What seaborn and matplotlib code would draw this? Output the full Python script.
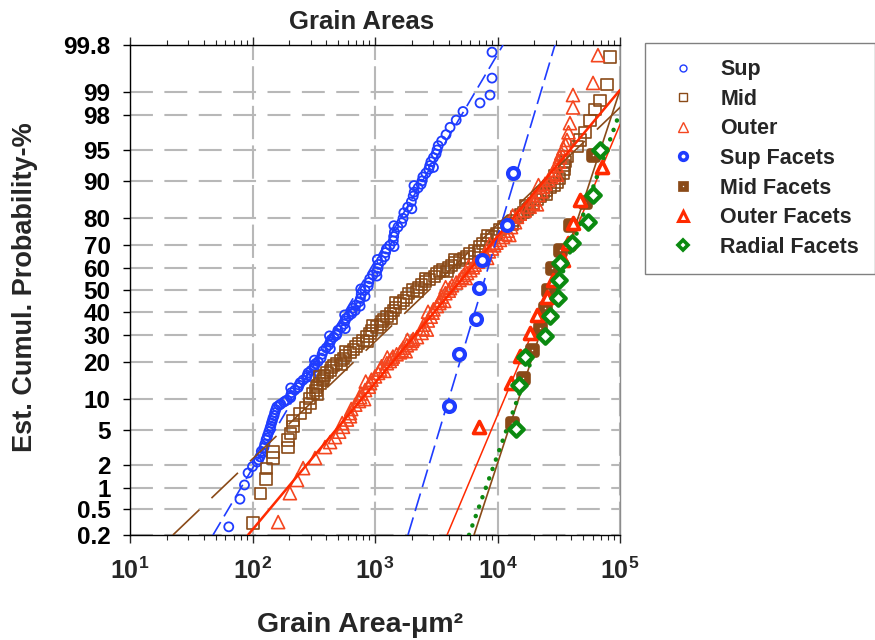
import math
import numpy as np
import matplotlib
matplotlib.use("Agg")
import matplotlib.pyplot as plt
import seaborn as sns
from matplotlib.lines import Line2D
from matplotlib.ticker import FixedLocator, NullLocator, LogLocator, FuncFormatter, NullFormatter

# ---------------- data ----------------
sup_area = [64, 79, 86, 92, 100, 109, 115, 120, 124, 129, 133, 139, 143, 147, 152,
            158, 170, 180, 191, 205, 222, 240, 259, 280, 300, 320, 343, 370, 400, 430,
            460, 490, 530, 570, 610, 649, 700, 760, 828, 890, 960, 1057, 1130, 1220, 1324,
            1420, 1540, 1693, 1850, 2050, 2250, 2421, 2600, 2800, 3000, 3210, 3500, 3800, 4100, 4600,
            5227, 7200, 8690, 9020, 9020]
sup_pct = [0.27, 0.70, 1.1, 1.58, 1.9, 2.16, 2.5, 2.77, 3.2, 3.9, 4.4, 5.2, 5.9, 6.6, 7.5,
           8.5, 9.0, 9.4, 9.8, 10.8, 12.0, 13.2, 14.5, 15.8, 17.2, 18.7, 20.0, 22.5, 24.8, 27.0,
           29.0, 30.5, 33.0, 35.8, 38.0, 40.0, 43.0, 46.0, 50.0, 53.5, 57.0, 60.0, 63.5, 67.0, 70.0,
           73.5, 77.0, 80.0, 83.5, 86.5, 88.5, 90.0, 91.5, 92.8, 94.0, 95.0, 96.0, 96.6, 97.2, 97.7,
           98.2, 98.6, 98.9, 99.36, 99.74]
sup_area_b = [112, 118, 126, 131, 136, 141, 145, 150, 155, 165, 185,
              205, 208, 236, 245, 276, 284, 318, 326, 363, 378, 420, 438, 485, 498, 560, 578,
              645, 660, 745, 772, 880, 905, 1030, 1070, 1200, 1240, 1410, 1440, 1650, 1720,
              1980, 2090, 2380, 2460, 2750, 2860, 3150, 3280]
sup_pct_b = [2.3, 2.9, 3.5, 4.1, 4.8, 5.5, 6.2, 7.0, 8.0, 8.8, 9.6,
             10.3, 11.4, 12.6, 13.8, 15.2, 16.5, 18.0, 19.3, 21.2, 23.7, 25.9, 28.0, 29.8, 31.8, 34.4, 36.9,
             39.0, 41.5, 44.5, 48.0, 51.8, 55.2, 58.5, 61.8, 65.2, 68.5, 71.8, 75.2, 78.5, 81.8,
             85.0, 87.5, 89.3, 90.8, 92.2, 93.4, 94.5, 95.5]
sup_area_c = [205, 300, 320, 432, 425, 572, 565, 690, 756, 830, 765, 1037, 1045, 1430, 1425,
              2000, 2080, 3000]
sup_pct_c = [12.5, 15.5, 20.5, 24.5, 29.5, 32.5, 38.5, 40.5, 42.5, 47.0, 50.5, 56.5, 64.0, 69.5, 77.5,
             83.0, 89.0, 92.5]

mid_area = [101, 117, 129, 131, 147, 147, 195, 195, 205, 214, 214, 244, 270, 295, 312,
            335, 356, 380, 406, 445, 489, 550, 625, 700, 798, 910, 1038, 1140, 1253, 1420,
            1600, 1800, 2042, 2400, 2800, 3200, 3590, 4200, 4900, 5640, 6500, 7620, 9000, 10470, 12300,
            14420, 16300, 18400, 21000, 23500, 27000, 30600, 34270, 35500, 36900, 44540, 47100, 51800,
            56900, 62500, 68700, 78400, 82800]
mid_pct = [0.31, 0.83, 1.32, 1.82, 2.42, 2.85, 3.25, 3.9, 4.6, 5.4, 6.3, 7.4, 8.3, 9.2, 11.3,
           12.5, 13.7, 15.0, 16.5, 18.0, 19.5, 21.2, 23.0, 25.3, 27.8, 30.5, 33.2, 35.5, 37.6, 40.5,
           43.5, 46.5, 50.0, 52.5, 55.0, 57.5, 59.3, 61.5, 63.5, 65.1, 68.0, 70.9, 73.5, 76.0, 78.3,
           80.5, 82.0, 83.5, 85.5, 87.3, 88.5, 89.6, 91.5, 92.8, 94.1, 95.4, 96.1, 96.8,
           97.7, 98.3, 98.7, 99.2, 99.69]
mid_area_b = [290, 330, 340, 372, 388, 430, 460, 525, 575, 670, 735, 860, 940, 1100, 1180,
              1340, 1480, 1710, 1870, 2250, 2580, 3050, 3350, 3950, 4450, 5300, 5950, 7100, 8200,
              9800, 11200, 13500, 15300, 17600, 19600, 22500, 25000, 29000, 32000, 35000, 36000]
mid_pct_b = [10.2, 11.9, 13.1, 14.3, 15.8, 17.2, 18.8, 20.3, 22.1, 24.1, 26.5, 29.1, 31.8, 34.3, 36.6,
             39.0, 42.0, 45.0, 48.2, 51.2, 53.8, 56.2, 58.4, 60.4, 62.5, 64.3, 66.5, 69.4, 72.2,
             74.7, 77.1, 79.4, 81.2, 82.8, 84.5, 86.4, 87.9, 89.0, 90.5, 92.1, 93.5]
mid_area_c = [340, 350, 530, 575, 860, 955, 1350, 1470, 2200, 2580, 3870, 4500, 7000, 8300,
              13300, 17000, 25300, 29500]
mid_pct_c = [11.0, 15.4, 19.0, 23.5, 27.3, 33.7, 37.1, 44.0, 49.5, 55.5, 58.8, 64.0, 67.5, 74.0,
             77.8, 84.0, 86.8, 91.0]

out_area = [162, 202, 231, 259, 324, 391, 430, 471, 510, 548, 590, 625, 690, 755, 830,
            911, 1000, 1100, 1250, 1370, 1500, 1650, 1820, 2000, 2200, 2450, 2700, 2950, 3200, 3400,
            3750, 4095, 4600, 5100, 5640, 6300, 6900, 7620, 8500, 9400, 10470, 11600, 12900, 14420, 16700,
            19500, 21500, 23500, 26000, 28370, 30300, 32360, 34500, 36900, 38000, 39050, 41330, 41330,
            60260, 66070]
out_pct = [0.32, 0.85, 1.28, 1.82, 2.42, 3.25, 3.7, 4.2, 4.8, 5.4, 6.4, 7.4, 8.9, 10.4, 12.0,
           13.7, 15.5, 17.5, 19.5, 21.0, 22.5, 24.0, 25.8, 27.5, 29.0, 32.5, 36.0, 39.5, 42.5, 45.3,
           48.5, 50.9, 53.5, 56.0, 57.9, 60.5, 63.0, 65.1, 67.5, 70.0, 72.2, 74.5, 77.0, 80.5, 82.5,
           84.7, 86.8, 88.7, 90.2, 91.5, 92.8, 94.1, 95.2, 96.1, 96.8, 97.5, 98.4, 98.9,
           99.25, 99.71]
out_area_b = [540, 625, 640, 740, 770, 890, 935, 1060, 1130, 1320, 1400, 1600, 1700, 1950, 2050,
              2400, 2500, 2850, 3000, 3350, 3500, 4000, 4250, 4900, 5300, 6000, 6500, 7400, 7900,
              9000, 9800, 11100, 12100, 13900, 15200, 18300, 20000, 22800, 24500, 27500, 29000,
              31800, 33200, 36000]
out_pct_b = [5.9, 6.9, 8.1, 9.6, 11.2, 12.8, 14.6, 16.5, 18.5, 20.2, 21.7, 23.2, 24.9, 26.6, 28.2,
             30.7, 34.2, 37.7, 41.0, 43.9, 46.9, 49.7, 52.2, 54.7, 57.0, 59.2, 61.7, 64.0, 66.3,
             68.7, 71.1, 73.3, 75.7, 78.7, 81.5, 83.6, 85.7, 87.7, 89.4, 90.8, 92.1,
             93.4, 94.6, 95.6]
out_area_c = [815, 840, 1190, 1260, 1780, 1840, 2650, 2710, 3670, 3770, 5500, 5800, 8230, 8650,
              12500, 13300, 21000, 21600, 30500]
out_pct_c = [10.0, 14.1, 17.1, 21.4, 23.6, 27.9, 32.1, 39.9, 44.9, 51.3, 55.6, 60.9, 64.7, 70.4,
             74.1, 80.9, 84.3, 89.1, 91.2]

supf_area = [4018, 4853, 6672, 7063, 7470, 11970, 13400]
supf_pct = [8.6, 22.6, 36.7, 50.9, 63.8, 77.8, 91.5]
midf_area = [13120, 16140, 19130, 22240, 24430, 25840, 27860, 32360, 39050, 51800, 60260]
midf_pct = [5.9, 15.1, 24.0, 32.8, 41.6, 50.0, 60.2, 68.1, 77.8, 84.9, 94.4]
outf_area = [7063, 12880, 15270, 18400, 20990, 25350, 28370, 34270, 37640, 41330, 47100, 71290]
outf_pct = [5.4, 13.7, 21.8, 30.7, 38.4, 46.7, 54.7, 63.8, 70.9, 78.4, 85.5, 92.6]
radf_area = [14160, 14990, 16770, 24430, 26850, 31180, 31780, 32360, 40550, 54800, 60260, 68700]
radf_pct = [5.1, 13.2, 21.6, 29.4, 38.0, 46.3, 54.7, 62.4, 70.9, 78.8, 86.8, 95.0]

# fitted lognormal lines (end points)
fit_sup_area, fit_sup_pct = [47.6, 11090], [0.2, 99.8]
fit_supf_area, fit_supf_pct = [1858, 29440], [0.2, 99.8]
fit_mid_area, fit_mid_pct = [22.4, 100000], [0.2, 98.4]
fit_midf_area, fit_midf_pct = [6430, 100000], [0.2, 99.06]
fit_out_area, fit_out_pct = [91.9, 100000], [0.2, 99.06]
fit_outf_area, fit_outf_pct = [3873, 100000], [0.2, 97.4]
fit_rad_area, fit_rad_pct = [5850, 100000], [0.2, 98.18]

y_ticks = [0.2, 0.5, 1, 2, 5, 10, 20, 30, 40, 50, 60, 70, 80, 90, 95, 98, 99, 99.8]
y_labels = ["0.2", "0.5", "1", "2", "5", "10", "20", "30", "40", "50", "60", "70",
            "80", "90", "95", "98", "99", "99.8"]
legend_labels = ["Sup", "Mid", "Outer", "Sup Facets", "Mid Facets", "Outer Facets", "Radial Facets"]

# ---------------- style ----------------
sns.set_style("white")
plt.rcParams['font.family'] = ['Liberation Sans', 'DejaVu Sans']
plt.rcParams['font.weight'] = 'bold'
plt.rcParams['mathtext.default'] = 'regular'

BLUE = '#1f3cff'
BROWN = '#8a4a18'
ORANGE = '#f4461f'
RED = '#ff2a00'
GREEN = '#0b8a10'
GRID = '#b8b8b8'

# ---------------- probability scale ----------------
_A = [-3.969683028665376e+01, 2.209460984245205e+02, -2.759285104469687e+02,
      1.383577518672690e+02, -3.066479806614716e+01, 2.506628277459239e+00]
_B = [-5.447609879822406e+01, 1.615858368580409e+02, -1.556989798598866e+02,
      6.680131188771972e+01, -1.328068155288572e+01]
_C = [-7.784894002430293e-03, -3.223964580411365e-01, -2.400758277161838e+00,
      -2.549732539343734e+00, 4.374664141464968e+00, 2.938163982698783e+00]
_D = [7.784695709041462e-03, 3.224671290700398e-01, 2.445134137142996e+00,
      3.754408661907416e+00]


def _tail(q):
    return ((((((_C[0] * q + _C[1]) * q + _C[2]) * q + _C[3]) * q + _C[4]) * q + _C[5]) /
            ((((_D[0] * q + _D[1]) * q + _D[2]) * q + _D[3]) * q + 1))


def probit(pct):
    shape = np.shape(pct)
    p = np.atleast_1d(np.asarray(pct, dtype=float)).ravel() / 100.0
    p = np.clip(np.nan_to_num(p, nan=0.5), 1e-12, 1 - 1e-12)
    out = np.empty_like(p)
    lo = p < 0.02425
    hi = p > 1 - 0.02425
    mid = ~(lo | hi)
    q = p[mid] - 0.5
    r = q * q
    out[mid] = ((((((_A[0] * r + _A[1]) * r + _A[2]) * r + _A[3]) * r + _A[4]) * r + _A[5]) * q /
                (((((_B[0] * r + _B[1]) * r + _B[2]) * r + _B[3]) * r + _B[4]) * r + 1))
    out[lo] = _tail(np.sqrt(-2 * np.log(p[lo])))
    out[hi] = -_tail(np.sqrt(-2 * np.log(1 - p[hi])))
    return out.reshape(shape)


_erf = np.vectorize(math.erf, otypes=[float])


def cdf(z):
    z = np.asarray(z, dtype=float)
    return 50.0 * (1.0 + _erf(z / math.sqrt(2.0)))


# ---------------- figure ----------------
fig = plt.figure(figsize=(8.75, 6.4), dpi=100)
ax = fig.add_axes([130 / 875, 1 - 535 / 640, 490 / 875, 490 / 640])
ax.set_xscale('log')
ax.set_yscale('function', functions=(probit, cdf))
ax.set_xlim(10, 1e5)
ax.set_ylim(0.2, 99.8)

# dense sample markers
sns.scatterplot(x=sup_area + sup_area_b + sup_area_c, y=sup_pct + sup_pct_b + sup_pct_c,
                ax=ax, marker='o', s=42, color=BLUE, facecolor='none', edgecolor=BLUE,
                linewidth=1.3, legend=False, zorder=3)
sns.scatterplot(x=mid_area + mid_area_b + mid_area_c, y=mid_pct + mid_pct_b + mid_pct_c,
                ax=ax, marker='s', s=64, color=BROWN, facecolor='none', edgecolor=BROWN,
                linewidth=1.2, legend=False, zorder=3)
sns.scatterplot(x=out_area + out_area_b + out_area_c, y=out_pct + out_pct_b + out_pct_c,
                ax=ax, marker='^', s=88, color=ORANGE, facecolor='none', edgecolor=ORANGE,
                linewidth=1.2, legend=False, zorder=3)

# fitted lines
sns.lineplot(x=fit_sup_area, y=fit_sup_pct, ax=ax, color=BLUE, lw=1.2,
             linestyle=(0, (9, 4)), estimator=None, sort=False, zorder=4)
sns.lineplot(x=fit_supf_area, y=fit_supf_pct, ax=ax, color=BLUE, lw=1.2,
             linestyle=(0, (11, 4)), estimator=None, sort=False, zorder=4)
sns.lineplot(x=fit_mid_area, y=fit_mid_pct, ax=ax, color=BROWN, lw=1.2,
             linestyle=(0, (22, 10)), estimator=None, sort=False, zorder=4)
sns.lineplot(x=fit_midf_area, y=fit_midf_pct, ax=ax, color=BROWN, lw=1.2,
             estimator=None, sort=False, zorder=4)
sns.lineplot(x=fit_out_area, y=fit_out_pct, ax=ax, color=RED, lw=1.8,
             estimator=None, sort=False, zorder=4)
sns.lineplot(x=fit_outf_area, y=fit_outf_pct, ax=ax, color=RED, lw=1.1,
             estimator=None, sort=False, zorder=4)
sns.lineplot(x=fit_rad_area, y=fit_rad_pct, ax=ax, color=GREEN, lw=3.2,
             linestyle=(0, (0.05, 2.2)), dash_capstyle='round',
             estimator=None, sort=False, zorder=5)

# facet markers
sns.scatterplot(x=supf_area, y=supf_pct, ax=ax, marker='o', s=62, color=BLUE,
                facecolor='white', edgecolor=BLUE, linewidth=3.0, legend=False, zorder=6)
sns.scatterplot(x=midf_area, y=midf_pct, ax=ax, marker='s', s=30, color=BROWN,
                facecolor='white', edgecolor=BROWN, linewidth=4.8, legend=False, zorder=6)
sns.scatterplot(x=outf_area, y=outf_pct, ax=ax, marker='^', s=75, color=RED,
                facecolor='white', edgecolor=RED, linewidth=2.6, legend=False, zorder=6)
sns.scatterplot(x=radf_area, y=radf_pct, ax=ax, marker='D', s=55, color=GREEN,
                facecolor='white', edgecolor=GREEN, linewidth=3.0, legend=False, zorder=7)

# ticks
ax.yaxis.set_major_locator(FixedLocator(y_ticks))
ax.yaxis.set_minor_locator(NullLocator())
ax.set_yticklabels(y_labels)
ax.xaxis.set_major_locator(LogLocator(base=10))
ax.xaxis.set_minor_locator(LogLocator(base=10, subs=np.arange(2, 10)))
ax.xaxis.set_major_formatter(FuncFormatter(
    lambda v, pos: r'$\mathregular{10^{%d}}$' % int(round(math.log10(v)))))
ax.xaxis.set_minor_formatter(NullFormatter())

ax.tick_params(axis='y', which='major', direction='out', length=5, width=1,
               pad=9, labelsize=17.5, left=True, right=False, colors='black')
ax.tick_params(axis='x', which='both', direction='out', top=True, bottom=True,
               labeltop=False)
ax.tick_params(axis='x', which='major', length=6, width=1, pad=10, labelsize=18)
ax.tick_params(axis='x', which='minor', length=3.5, width=0.8)

# grid
ax.yaxis.grid(True, which='major', color=GRID, lw=1.5, linestyle=(0, (11, 5.5)))
ax.xaxis.grid(True, which='major', color=GRID, lw=1.5, linestyle=(0, (16, 3)))
ax.set_axisbelow(True)

for side in ['left', 'bottom', 'top']:
    ax.spines[side].set_color('black')
    ax.spines[side].set_linewidth(1.0)
ax.spines['right'].set_color('#8c8c8c')
ax.spines['right'].set_linewidth(1.0)

ax.set_xlabel('')
ax.set_ylabel('')

# texts
fig.text(362 / 875, 1 - 22 / 640, 'Grain Areas', ha='center', va='center',
         fontsize=18.5, fontweight='bold')
fig.text(360 / 875, 1 - 625 / 640, 'Grain Area-\u03bcm\u00b2', ha='center', va='center',
         fontsize=20.5, fontweight='bold')
fig.text(25 / 875, 1 - 287 / 640, 'Est. Cumul. Probability-%', ha='center', va='center',
         rotation=90, fontsize=19.5, fontweight='bold')

# legend
handles = [
    Line2D([], [], ls='none', marker='o', ms=5, mfc='none', mec=BLUE, mew=1.0),
    Line2D([], [], ls='none', marker='s', ms=6, mfc='none', mec=BROWN, mew=1.0),
    Line2D([], [], ls='none', marker='^', ms=7, mfc='none', mec=ORANGE, mew=1.0),
    Line2D([], [], ls='none', marker='o', ms=5.5, mfc='white', mec=BLUE, mew=2.6),
    Line2D([], [], ls='none', marker='s', ms=4.5, mfc='white', mec=BROWN, mew=3.4),
    Line2D([], [], ls='none', marker='^', ms=6.5, mfc='white', mec=RED, mew=2.2),
    Line2D([], [], ls='none', marker='D', ms=5, mfc='white', mec=GREEN, mew=2.6),
]
leg = fig.legend(handles, legend_labels, loc='upper left',
                 bbox_to_anchor=(645 / 875, 1 - 43 / 640),
                 frameon=True, fancybox=False, framealpha=1, edgecolor='#808080',
                 prop={'size': 15.5, 'weight': 'bold'}, borderpad=0.75,
                 handlelength=2.0, handletextpad=0.75, labelspacing=0.4,
                 borderaxespad=0)
leg.get_frame().set_linewidth(1.0)

fig.savefig('out.png', dpi=100)
